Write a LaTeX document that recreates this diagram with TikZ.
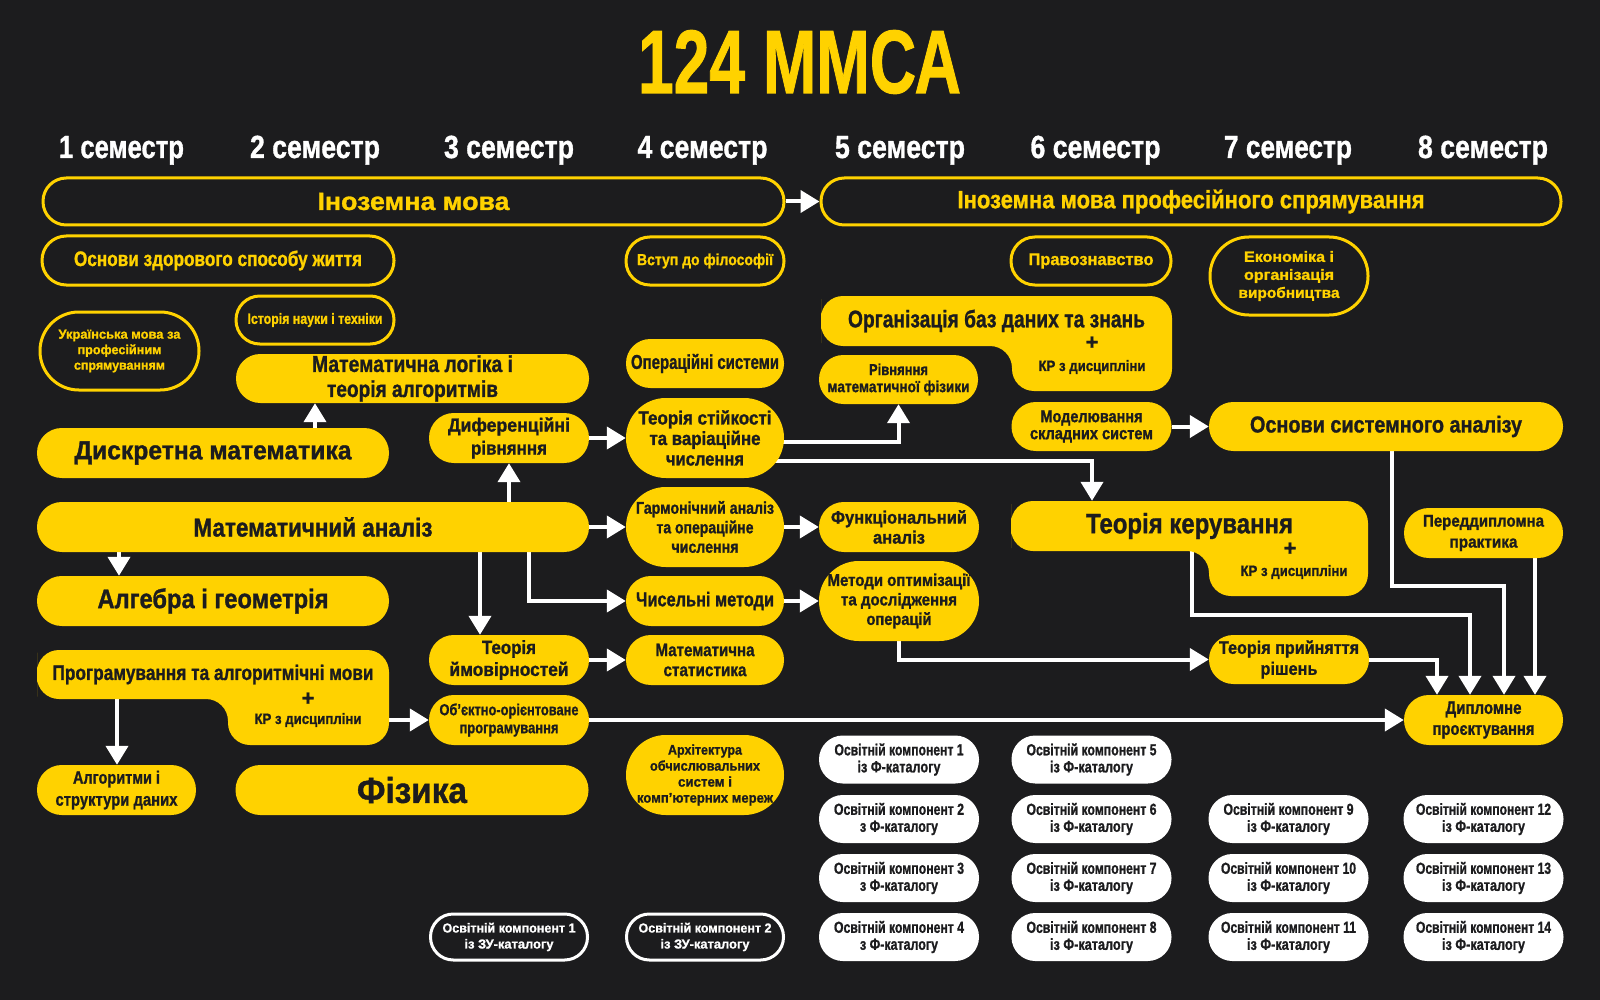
\documentclass[tikz,border=0pt]{standalone}
\usepackage{fontspec}
\setmainfont{Liberation Sans}[BoldFeatures={FakeBold=1.2}]
\usepackage{graphicx}
\usetikzlibrary{arrows.meta}
\definecolor{bgc}{HTML}{1C1C1E}
\definecolor{yel}{HTML}{FFD200}
\newcommand\fw[2]{\resizebox{#1pt}{\height}{#2}}
\newcommand\fsz[2]{\fontsize{#1}{#2}\selectfont\bfseries}
\pgfdeclarelayer{bglayer}
\pgfdeclarelayer{linelayer}
\pgfsetlayers{bglayer,linelayer,main}
\begin{document}
\begin{tikzpicture}[x=1pt,y=-1pt,
  pill/.style 2 args={rectangle,inner sep=0pt,align=center,minimum width=#1,minimum height=#2,rounded corners=#2/2-0.2pt},
  yf/.style 2 args={pill={#1}{#2},fill=yel,text=bgc},
  yo/.style 2 args={pill={#1}{#2},draw=yel,line width=3pt,text=yel},
  wf/.style 2 args={pill={#1}{#2},fill=white,text=bgc,font=\fsz{16}{17}},
  wo/.style 2 args={pill={#1}{#2},draw=white,line width=3pt,text=white,font=\fsz{13}{16}},
  tx/.style={inner sep=0pt,align=center},
  sem/.style={inner sep=0pt,anchor=base,text=white,font=\fsz{32}{32}},
  arr/.style={draw=white,line width=4pt,-{Triangle[width=22pt,length=19pt]}},
]
\begin{pgfonlayer}{bglayer}
\fill[bgc] (0,0) rectangle (1600,1000);
\end{pgfonlayer}
\useasboundingbox (0,0) rectangle (1600,1000);

% title and semesters
\node[tx,anchor=base,text=yel,font=\fsz{90}{90}] (title) at (799.5,93) {\fw{323}{124 ММСА}};
\node[sem] (s1) at (121.5,158) {\fw{125}{1 семестр}};
\node[sem] (s2) at (315,158) {\fw{130}{2 семестр}};
\node[sem] (s3) at (509,158) {\fw{130}{3 семестр}};
\node[sem] (s4) at (702.5,158) {\fw{130}{4 семестр}};
\node[sem] (s5) at (900,158) {\fw{130}{5 семестр}};
\node[sem] (s6) at (1095.5,158) {\fw{130}{6 семестр}};
\node[sem] (s7) at (1288,158) {\fw{128}{7 семестр}};
\node[sem] (s8) at (1483,158) {\fw{130}{8 семестр}};

% outlined
\node[yo={741pt}{47pt},font=\fsz{25}{25}] (inoz) at (413.5,201.5) {\fw{192}{Іноземна мова}};
\node[yo={740pt}{47pt},font=\fsz{25}{25}] (inozp) at (1191,201.5) {\fw{467}{Іноземна мова професійного спрямування}};
\node[yo={352pt}{49pt},font=\fsz{21}{21}] (zdor) at (218,260.5) {\fw{288}{Основи здорового способу життя}};
\node[yo={158pt}{48pt},font=\fsz{15}{15}] (ist) at (315,320) {\fw{135}{Історія науки і техніки}};
\node[yo={159pt}{78pt},font=\fsz{13}{15.5}] (ukr) at (119.5,351) {\fw{122}{Українська мова за}\\\fw{84}{професійним}\\\fw{91}{спрямуванням}};
\node[yo={158pt}{48pt},font=\fsz{16}{16}] (vstup) at (705,261) {\fw{136}{Вступ до філософії}};
\node[yo={160pt}{48pt},font=\fsz{17}{17}] (pravo) at (1091,261) {\fw{125}{Правознавство}};
\node[yo={158pt}{78pt},font=\fsz{15}{18}] (econ) at (1289,276) {\fw{90}{Економіка і}\\\fw{90}{організація}\\\fw{101}{виробництва}};

% filled
\node[yf={353pt}{49pt},font=\fsz{23}{25}] (mlog) at (412.5,378.5) {\fw{201}{Математична логіка і}\\\fw{171}{теорія алгоритмів}};
\node[yf={158pt}{49pt},font=\fsz{20}{20}] (ops) at (705,363.5) {\fw{148}{Операційні системи}};
\node[yf={159pt}{49pt},font=\fsz{16}{17}] (riv) at (898.5,379.5) {\fw{59}{Рівняння}\\\fw{142}{математичної фізики}};
\node[yf={160pt}{50pt},font=\fsz{19}{23}] (dif) at (509,438) {\fw{122}{Диференційні}\\\fw{76}{рівняння}};
\node[yf={158pt}{80pt},font=\fsz{19}{20.5}] (stiy) at (705,438) {\fw{133}{Теорія стійкості}\\\fw{111}{та варіаційне}\\\fw{78}{числення}};
\node[yf={160pt}{49pt},font=\fsz{17}{17}] (model) at (1091.5,426.5) {\fw{102}{Моделювання}\\\fw{123}{складних систем}};
\node[yf={354pt}{49pt},font=\fsz{23}{23}] (osa) at (1386,426.5) {\fw{272}{Основи системного аналізу}};
\node[yf={352pt}{50pt},font=\fsz{26}{26}] (dm) at (213,453) {\fw{277}{Дискретна математика}};
\node[yf={552pt}{50pt},font=\fsz{26}{26}] (ma) at (313,527) {\fw{239}{Математичний аналіз}};
\node[yf={352pt}{50pt},font=\fsz{27}{27}] (alg) at (213,601) {\fw{231}{Алгебра і геометрія}};
\node[yf={158pt}{80pt},font=\fsz{17}{19.5}] (harm) at (705,527) {\fw{138}{Гармонічний аналіз}\\\fw{97}{та операційне}\\\fw{67}{числення}};
\node[yf={160pt}{50pt},font=\fsz{18}{20}] (func) at (899,527) {\fw{136}{Функціональний}\\\fw{52}{аналіз}};
\node[yf={158pt}{50pt},font=\fsz{20}{20}] (chys) at (705,601) {\fw{138}{Чисельні методи}};
\node[yf={160pt}{80pt},font=\fsz{17}{19.5}] (opt) at (899,601) {\fw{143}{Методи оптимізації}\\\fw{116}{та дослідження}\\\fw{65}{операцій}};
\node[yf={160pt}{50pt},font=\fsz{19}{22}] (tv) at (509,660) {\fw{54}{Теорія}\\\fw{119}{ймовірностей}};
\node[yf={158pt}{50pt},font=\fsz{18}{20}] (ms) at (705,660) {\fw{99}{Математична}\\\fw{83}{статистика}};
\node[yf={160pt}{50pt},font=\fsz{16}{18}] (oop) at (509,720) {\fw{139}{Об’єктно-орієнтоване}\\\fw{99}{програмування}};
\node[yf={158pt}{80pt},font=\fsz{14}{16}] (arch) at (705,775) {\fw{74}{Архітектура}\\\fw{110}{обчислювальних}\\\fw{54}{систем і}\\\fw{136}{комп’ютерних мереж}};
\node[yf={159pt}{50pt},font=\fsz{18}{22}] (algds) at (116.5,790) {\fw{87}{Алгоритми і}\\\fw{122}{структури даних}};
\node[yf={353pt}{50pt},font=\fsz{36}{36}] (fiz) at (412,790) {\fw{110}{Фізика}};
\node[yf={159pt}{50pt},font=\fsz{17}{21}] (pred) at (1483.5,533) {\fw{121}{Переддипломна}\\\fw{68}{практика}};
\node[yf={160pt}{49pt},font=\fsz{18}{21}] (tpr) at (1289,659.5) {\fw{140}{Теорія прийняття}\\\fw{57}{рішень}};
\node[yf={159pt}{50pt},font=\fsz{18}{21}] (dyp) at (1483.5,720) {\fw{76}{Дипломне}\\\fw{102}{проєктування}};

% composites
\fill[yel,rounded corners=22pt] (821,321) -- (821,296) -- (1172,296) -- (1172,391) -- (1012,391) -- (1012,346) -- (821,346) -- cycle;
\node[pill={351pt}{50pt},text=bgc,font=\fsz{24}{24}] (obd) at (996.5,321) {\fw{297}{Організація баз даних та знань}};
\node[tx,text=bgc,font=\fsz{22}{22}] (obdp) at (1092,343) {+};
\node[tx,text=bgc,font=\fsz{15}{15}] (obdkr) at (1092,367) {\fw{107}{КР з дисципліни}};

\fill[yel,rounded corners=22pt] (37,674.5) -- (37,650) -- (389,650) -- (389,745) -- (228,745) -- (228,699) -- (37,699) -- cycle;
\node[pill={352pt}{49pt},text=bgc,font=\fsz{21}{21}] (prog) at (213,674.5) {\fw{321}{Програмування та алгоритмічні мови}};
\node[tx,text=bgc,font=\fsz{22}{22}] (progp) at (308,699) {+};
\node[tx,text=bgc,font=\fsz{15}{15}] (progkr) at (308,720) {\fw{107}{КР з дисципліни}};

\fill[yel,rounded corners=22pt] (1011,526) -- (1011,501) -- (1368,501) -- (1368,596) -- (1209,596) -- (1209,551) -- (1011,551) -- cycle;
\node[pill={357pt}{50pt},text=bgc,font=\fsz{28}{28}] (tk) at (1189.5,526) {\fw{207}{Теорія керування}};
\node[tx,text=bgc,font=\fsz{22}{22}] (tkp) at (1290,549) {+};
\node[tx,text=bgc,font=\fsz{15}{15}] (tkkr) at (1294,572) {\fw{107}{КР з дисципліни}};

% white components
\node[wf={160pt}{48pt}] (oc1) at (899,759.5) {\fw{129}{Освітній компонент 1}\\\fw{83}{із Ф-каталогу}};
\node[wf={160pt}{48pt}] (oc2) at (899,819) {\fw{130}{Освітній компонент 2}\\\fw{78}{з Ф-каталогу}};
\node[wf={160pt}{48pt}] (oc3) at (899,878) {\fw{130}{Освітній компонент 3}\\\fw{78}{з Ф-каталогу}};
\node[wf={160pt}{48pt}] (oc4) at (899,937) {\fw{130}{Освітній компонент 4}\\\fw{78}{з Ф-каталогу}};
\node[wf={160pt}{48pt}] (oc5) at (1091.5,759.5) {\fw{130}{Освітній компонент 5}\\\fw{83}{із Ф-каталогу}};
\node[wf={160pt}{48pt}] (oc6) at (1091.5,819) {\fw{130}{Освітній компонент 6}\\\fw{83}{із Ф-каталогу}};
\node[wf={160pt}{48pt}] (oc7) at (1091.5,878) {\fw{130}{Освітній компонент 7}\\\fw{83}{із Ф-каталогу}};
\node[wf={160pt}{48pt}] (oc8) at (1091.5,937) {\fw{130}{Освітній компонент 8}\\\fw{83}{із Ф-каталогу}};
\node[wf={160pt}{48pt}] (oc9) at (1288.5,819) {\fw{130}{Освітній компонент 9}\\\fw{83}{із Ф-каталогу}};
\node[wf={160pt}{48pt}] (oc10) at (1288.5,878) {\fw{135}{Освітній компонент 10}\\\fw{83}{із Ф-каталогу}};
\node[wf={160pt}{48pt}] (oc11) at (1288.5,937) {\fw{135}{Освітній компонент 11}\\\fw{83}{із Ф-каталогу}};
\node[wf={160pt}{48pt}] (oc12) at (1483.5,819) {\fw{135}{Освітній компонент 12}\\\fw{83}{із Ф-каталогу}};
\node[wf={160pt}{48pt}] (oc13) at (1483.5,878) {\fw{135}{Освітній компонент 13}\\\fw{83}{із Ф-каталогу}};
\node[wf={160pt}{48pt}] (oc14) at (1483.5,937) {\fw{135}{Освітній компонент 14}\\\fw{83}{із Ф-каталогу}};
\node[wo={157pt}{46pt}] (zu1) at (509,937) {\fw{133}{Освітній компонент 1}\\\fw{89}{із ЗУ-каталогу}};
\node[wo={157pt}{46pt}] (zu2) at (705,937) {\fw{133}{Освітній компонент 2}\\\fw{89}{із ЗУ-каталогу}};

% connectors
\begin{pgfonlayer}{linelayer}
\draw[arr] (inoz.east) -- (inozp.west);
\draw[arr] (315,0 |- dm.north) -- (315,0 |- mlog.south);
\draw[arr] (119,0 |- ma.south) -- (119,0 |- alg.north);
\draw[arr] (ma.north -| dif.south) -- (dif.south);
\draw[arr] (ma.east) -- (harm.west);
\draw[arr] (480,0 |- ma.south) -- (480,0 |- tv.north);
\draw[arr] (529,0 |- ma.south) |- (chys.west);
\draw[arr] (dif.east) -- (stiy.west);
\draw[arr] (stiy.center |- 0,442) -| (riv.south);
\draw[arr] (stiy.center |- 0,461) -| (1092,0 |- tk.north);
\draw[arr] (harm.east) -- (func.west);
\draw[arr] (chys.east) -- (opt.west);
\draw[arr] (tv.east) -- (ms.west);
\draw[arr] (oop.west -| prog.east) -- (oop.west);
\draw[arr] (117,0 |- prog.south) -- (117,0 |- algds.north);
\draw[arr] (oop.east) -- (dyp.west);
\draw[arr] (opt.south) |- (tpr.west);
\draw[arr] (model.east) -- (osa.west);
\draw[arr] (1192,0 |- tk.south) -- (1192,615) -| (1470,0 |- dyp.north);
\draw[arr] (1392,0 |- osa.south) -- (1392,586) -| (1504,0 |- dyp.north);
\draw[arr] (1535,0 |- pred.south) -- (1535,0 |- dyp.north);
\draw[arr] (tpr.east) -| (1437,0 |- dyp.north);
\end{pgfonlayer}
\end{tikzpicture}
\end{document}
